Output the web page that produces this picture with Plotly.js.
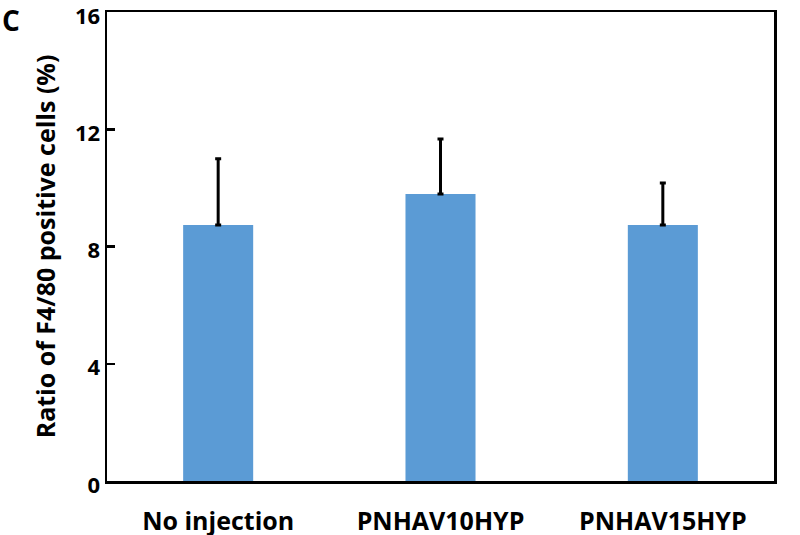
<!DOCTYPE html>
<html><head><meta charset="utf-8">
<script src="https://cdn.plot.ly/plotly-3.0.1.min.js"></script>
<style>body{margin:0;padding:0;background:#fff}#chart{width:800px;height:535px}</style>
</head><body><div id="chart"></div>
<script>
const categories = ["No injection", "PNHAV10HYP", "PNHAV15HYP"];
const ratios = [8.73, 9.79, 8.73];
const errorsUp = [2.26, 1.88, 1.44];
const yTicks = [0, 4, 8, 12, 16];

const trace = {
  type: "bar",
  x: categories,
  y: ratios,
  marker: {color: "#5B9BD5"},
  error_y: {type: "data", symmetric: false, array: errorsUp, arrayminus: [0,0,0], color: "#000", thickness: 3, width: 3},
  hoverinfo: "none"
};
const font = {family: "Open Sans, sans-serif", color: "#000"};
const layout = {
  width: 800, height: 535,
  margin: {l: 107, r: 26, t: 12, b: 54},
  paper_bgcolor: "#fff", plot_bgcolor: "#fff",
  showlegend: false,
  bargap: 0.685,
  font: font,
  xaxis: {
    showline: true, linecolor: "#000", linewidth: 2.5, mirror: true,
    ticks: "", tickfont: {family: "Open Sans, sans-serif", size: 25, weight: "bold", color: "#000"},
    ticklabelstandoff: 16
  },
  yaxis: {
    range: [0, 16], tickvals: yTicks, ticktext: yTicks.map(String),
    showline: true, linecolor: "#000", linewidth: 2.5, mirror: true,
    showgrid: false, zeroline: false,
    ticks: "inside", ticklen: 8, tickwidth: 2.5, tickcolor: "#000",
    ticklabeloverflow: "allow", ticklabelshift: 4,
    tickfont: {family: "Open Sans, sans-serif", size: 22, weight: "bold", color: "#000"},
    title: {text: "Ratio of F4/80 positive cells (%)", font: {family: "Open Sans, sans-serif", size: 25, weight: "bold", color: "#000"}, standoff: 12}
  },
  annotations: [{
    text: "C", x: 0, y: 1, xref: "paper", yref: "paper", xanchor: "left", yanchor: "top",
    xshift: -106, yshift: 12, showarrow: false, borderpad: 0,
    font: {family: "Open Sans, sans-serif", size: 28, weight: "bold", color: "#000"}
  }]
};
Plotly.newPlot("chart", [trace], layout, {displayModeBar: false, staticPlot: true});
</script></body></html>
